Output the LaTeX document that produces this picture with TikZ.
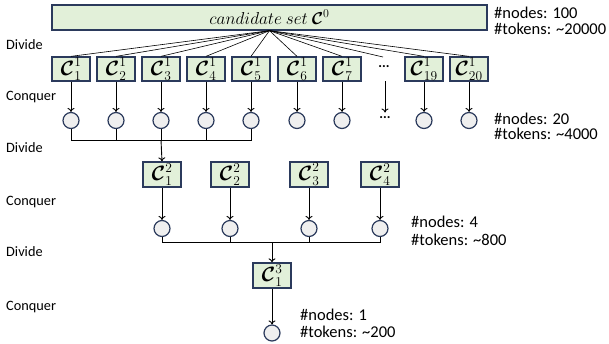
\documentclass[tikz,border=0pt]{standalone}
\usepackage{amsmath}
\usepackage[no-math]{fontspec}
\setmainfont{Carlito}
\newfontfamily\lmr{Latin Modern Roman}
\DeclareMathSizes{17.5}{17.5}{12}{9}
\usetikzlibrary{arrows.meta}
\definecolor{boxfill}{HTML}{E2F0D9}
\definecolor{navy}{HTML}{2B3A5C}
\definecolor{circfill}{HTML}{EFEFEF}
\newcommand{\scr}[1]{\mbox{\lmr\fontsize{13.5}{14}\selectfont #1}}
\newcommand{\cset}[2]{$\boldsymbol{\mathcal{C}}^{\scr{#1}}_{\scr{#2}}$}
\begin{document}
\begin{tikzpicture}[x=1pt,y=-1pt,
 cbox/.style={draw=navy, line width=1.3pt, fill=boxfill, minimum width=38pt, minimum height=24pt, inner sep=0pt, font=\fontsize{20}{22}\selectfont},
 circ/.style={circle, draw=navy, line width=1.2pt, fill=circfill, minimum size=16pt, inner sep=0pt},
 lab/.style={font=\fontsize{14.3}{16}\selectfont, anchor=west, inner sep=0pt},
 rlab/.style={font=\fontsize{16.5}{18}\selectfont, anchor=west, inner sep=0pt},
 dots/.style={font=\fontsize{14}{16}\selectfont\bfseries, inner sep=0pt},
 arr/.style={-{To[length=4pt,width=7pt]}, line width=0.9pt},
 conn/.style={line width=0.9pt},
 fan/.style={line width=0.6pt}
]
\useasboundingbox (0,0) rectangle (609,343);
% top box
\node[cbox, minimum width=435pt, minimum height=25pt, font=\fontsize{17.5}{19}\selectfont] (top) at (269.5,17.5) {$candidate\ set\ \boldsymbol{\mathcal{C}}^0$};
% row 1
\foreach \i/\x in {1/71,2/116,3/161,4/206,5/251,6/297,7/342,19/424,20/469}{
  \node[cbox] (b\i) at (\x,69) {\cset{1}{\i}};
  \node[circ] (c\i) at (\x,120.5) {};
  \draw[fan] (top.south) -- (b\i.north);
  \draw[arr] (b\i.south) -- (c\i.north);
}
\node[dots] (d1) at (384,67) {...};
\node[dots] (d2) at (385,118) {...};
\coordinate (fd) at (383,57);
\coordinate (ad1) at (385,81);
\coordinate (ad2) at (385,112.5);
\draw[fan] (top.south) -- (fd);
\draw[arr] (ad1) -- (ad2);
% bracket 1
\coordinate (m1) at (161,140);
\draw[conn] (c1.south) -- (c1.south |- m1) -- (c5.south |- m1) -- (c5.south);
\foreach \i in {2,3,4}{\draw[conn] (c\i.south) -- (c\i.south |- m1);}
% row 2
\foreach \i/\x in {1/162,2/230,3/309,4/380}{
  \node[cbox, minimum height=25pt] (e\i) at (\x,174.5) {\cset{2}{\i}};
  \node[circ] (f\i) at (\x,228.5) {};
  \draw[arr] (e\i.south) -- (f\i.north);
}
\draw[arr] (m1) -- (e1.north);
% bracket 2
\coordinate (m2) at (272,242);
\draw[conn] (f1.south) -- (f1.south |- m2) -- (f4.south |- m2) -- (f4.south);
\foreach \i in {2,3}{\draw[conn] (f\i.south) -- (f\i.south |- m2);}
% row 3
\node[cbox, minimum height=25pt] (g1) at (272,275.5) {\cset{3}{1}};
\node[circ] (h1) at (272,333) {};
\draw[arr] (m2) -- (g1.north);
\draw[arr] (g1.south) -- (h1.north);
% left labels
\node[lab] (l1) at (6,45) {Divide};
\node[lab] (l2) at (6,97) {Conquer};
\node[lab] (l3) at (6,148) {Divide};
\node[lab] (l4) at (6,202) {Conquer};
\node[lab] (l5) at (6,252) {Divide};
\node[lab] (l6) at (6,307) {Conquer};
% right labels
\node[rlab] (r1) at (494,13) {\#nodes: 100};
\node[rlab] (r2) at (494,29) {\#tokens: \textasciitilde 20000};
\node[rlab] (r3) at (494,119) {\#nodes: 20};
\node[rlab] (r4) at (494,134) {\#tokens: \textasciitilde 4000};
\node[rlab] (r5) at (411,222) {\#nodes: 4};
\node[rlab] (r6) at (411,240) {\#tokens: \textasciitilde 800};
\node[rlab] (r7) at (300,315) {\#nodes: 1};
\node[rlab] (r8) at (300,332) {\#tokens: \textasciitilde 200};
\end{tikzpicture}
\end{document}
